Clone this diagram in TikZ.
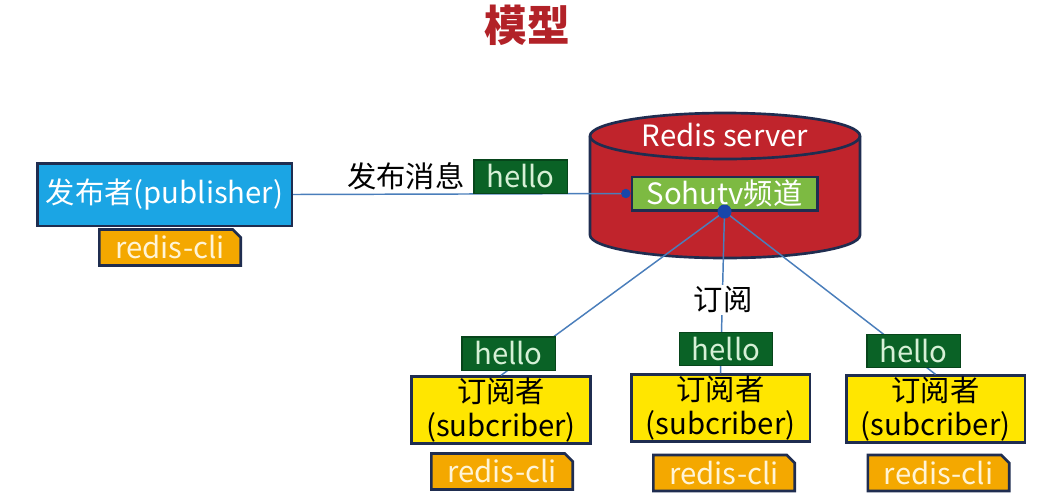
\documentclass[tikz,border=0pt]{standalone}
\usepackage{fontspec}
\setmainfont{Noto Sans CJK SC}
\usepackage{xcolor}
\usetikzlibrary{positioning, arrows.meta, shapes.misc}

\definecolor{edge}{RGB}{31,45,80}
\definecolor{pubblue}{RGB}{27,165,228}
\definecolor{cliorange}{RGB}{244,168,0}
\definecolor{clitext}{RGB}{255,244,214}
\definecolor{msggreen}{RGB}{10,98,38}
\definecolor{msgtext}{RGB}{214,240,214}
\definecolor{serverred}{RGB}{192,36,44}
\definecolor{changreen}{RGB}{125,186,66}
\definecolor{subyellow}{RGB}{255,230,0}
\definecolor{linkblue}{RGB}{74,126,187}
\definecolor{dotblue}{RGB}{25,70,170}
\definecolor{titlered}{RGB}{178,34,40}

\begin{document}
\begin{tikzpicture}[x=0.75pt,y=-0.75pt,node distance=3pt,
    txt/.style={font=\fontsize{22}{25}\selectfont},
    box/.style={txt,draw=edge,line width=2pt,inner sep=0pt,align=center},
    pubbox/.style={box,fill=pubblue,text=white,minimum width=191pt,minimum height=47pt},
    clibox/.style={box,chamfered rectangle,chamfered rectangle corners=north east,
        chamfered rectangle xsep=3pt,chamfered rectangle ysep=3pt,
        fill=cliorange,text=clitext,minimum width=106pt,minimum height=27pt},
    msgbox/.style={box,draw=msggreen!70!black,line width=1pt,fill=msggreen,text=msgtext,
        minimum width=70pt,minimum height=25pt},
    chanbox/.style={box,fill=changreen,text=white,minimum width=139pt,minimum height=25pt},
    subbox/.style={box,fill=subyellow,text=black,minimum width=134pt,minimum height=50pt},
    link/.style={draw=linkblue,line width=1.1pt}]
  \useasboundingbox[fill=white] (0,0) rectangle (1047,497);

  % title
  \node[font=\fontsize{32}{34}\selectfont\bfseries,text=titlered] (title) at (527,25) {模型};

  % redis server
  \draw[fill=serverred,draw=edge,line width=2pt] (590,136) -- (590,235)
    arc[start angle=180,end angle=0,x radius=135,y radius=23] -- (860,136)
    arc[start angle=0,end angle=-180,x radius=135,y radius=23] -- cycle;
  \draw[draw=edge,line width=2pt] (590,136) arc[start angle=180,end angle=0,x radius=135,y radius=23];
  \node[txt,text=white] (server) at (725,135) {Redis server};
  \node[chanbox] (chan) at (724.5,193.5) {Sohutv频道};

  % publisher
  \node[pubbox] (pub) at (164.5,194.5) {发布者(publisher)};
  \node[clibox] (pubcli) at (170,247.5) {redis-cli};
  \draw[link,-{Circle[length=7pt,color=dotblue]}] (pub.east) -- (chan.west);
  \node[msgbox] (hello0) at (520.5,176.5) {hello};
  \node[txt] (pubtxt) [left=of hello0] {发布消息};

  % subscribers
  \node[subbox] (sub1) at (501,410) {订阅者\\(subcriber)};
  \node[subbox] (sub2) at (720.5,408) {订阅者\\(subcriber)};
  \node[subbox] (sub3) at (935.5,409) {订阅者\\(subcriber)};
  \foreach \s in {sub1,sub2,sub3}
    \draw[link] (chan.south) -- (\s.north);
  \fill[dotblue] (chan.south) circle (7);
  \node[txt,fill=white,inner sep=1pt] (subtxt) at (723,300) {订阅};

  \node[msgbox] (hello1) at (508.5,353.5) {hello};
  \node[msgbox] (hello2) at (726,349) {hello};
  \node[msgbox] (hello3) at (913.5,351) {hello};

  \node[clibox] (cli1) at (502,471.5) {redis-cli};
  \node[clibox] (cli2) at (724,473) {redis-cli};
  \node[clibox] (cli3) at (938.5,473) {redis-cli};
\end{tikzpicture}
\end{document}
